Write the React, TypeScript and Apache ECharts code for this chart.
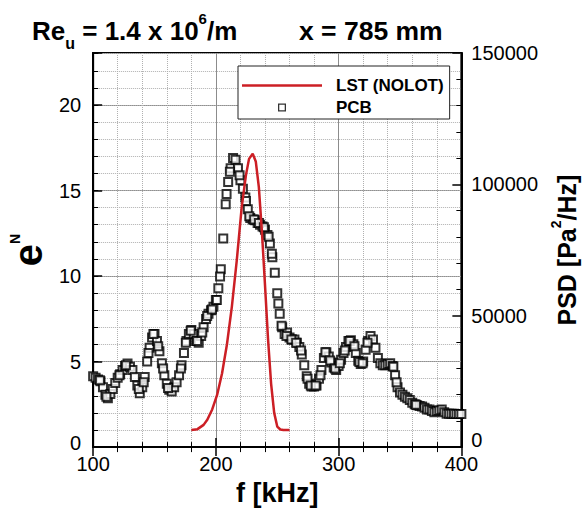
import React, { useEffect, useRef } from "react";
import * as echarts from "echarts";

const FONT = "'Liberation Sans', Arial, Helvetica, sans-serif";

// LST (NOLOT) N-factor curve: [f kHz, e^N]
const lstPoints: number[][] = [
  [180, 1.0], [185, 1.05], [190, 1.3], [193, 1.6], [197, 2.2], [201, 3.05], [205, 4.3],
  [209, 6.0], [213, 8.2], [217, 10.9], [221, 14.0], [224.5, 15.9], [227, 16.85], [230, 17.15],
  [232.5, 16.7], [235, 15.2], [237.5, 12.6], [240, 9.5], [242.5, 6.3], [245, 3.7],
  [247.5, 2.0], [250, 1.2], [252.5, 1.03], [255, 1.0], [260, 1.0],
];

// PCB measured PSD: [f kHz, PSD Pa^2/Hz], read every 2 kHz
const pcbPoints: number[][] = [
  [100, 27000], [102, 26400], [104, 25700], [106, 25100], [108, 22800], [110, 19900], [112, 18600],
  [114, 20200], [116, 22100], [118, 24400], [120, 26400], [122, 27700], [124, 29300], [126, 30900],
  [128, 31800], [130, 30600], [132, 29300], [134, 26700], [136, 23400], [138, 20500], [140, 22800],
  [142, 26700], [144, 32600], [146, 37800], [148, 41700], [150, 43000], [152, 40400], [154, 36500],
  [156, 31900], [158, 27300], [160, 24100], [162, 21800], [164, 21200], [166, 22800], [168, 24700],
  [170, 27300], [172, 31200], [174, 35800], [176, 40400], [178, 43000], [180, 44600], [182, 43000],
  [184, 40400], [186, 39700], [188, 42300], [190, 45600], [192, 48800], [194, 50800], [196, 52100],
  [198, 53400], [200, 56000], [202, 60500], [204, 67700], [206, 79400], [208, 92400], [210, 100900],
  [212, 106100], [214, 110000], [216, 109400], [218, 106100], [220, 101600], [222, 98300], [224, 95000],
  [226, 90500], [228, 87200], [230, 86600], [232, 86300], [234, 85300], [236, 84600], [238, 84000],
  [240, 82700], [242, 80700], [244, 77500], [246, 72300], [248, 66400], [250, 58600], [252, 50800],
  [254, 45600], [256, 43000], [258, 43600], [260, 41700], [262, 41000], [264, 41000], [266, 39700],
  [268, 38100], [270, 35200], [272, 31200], [274, 27000], [276, 24100], [278, 23100], [280, 23100],
  [282, 23400], [284, 26000], [286, 29300], [288, 33900], [290, 36100], [292, 34500], [294, 32200],
  [296, 30300], [298, 29300], [300, 30900], [302, 33200], [304, 35800], [306, 38100], [308, 40400],
  [310, 40700], [312, 39100], [314, 35800], [316, 32900], [318, 31600], [320, 32600], [322, 37100],
  [324, 40400], [326, 42300], [328, 41000], [330, 37800], [332, 33900], [334, 31900], [336, 31200],
  [338, 31200], [340, 31600], [342, 31900], [344, 30900], [346, 27300], [348, 22800], [350, 20800],
  [352, 19900], [354, 19200], [356, 18600], [358, 17900], [360, 16900], [362, 16300], [364, 15900],
  [366, 15600], [368, 15500], [370, 15000], [372, 14300], [374, 14300], [376, 13700], [378, 13300],
  [380, 13700], [382, 14000], [384, 14300], [386, 13300], [388, 12700], [390, 12700], [392, 12700],
  [394, 12700], [396, 12600], [398, 12600], [400, 12600],
];

// PCB additional readings between the 2 kHz grid (from close-up reading)
const pcbPointsExtra: number[][] = [
  [105.5, 25400], [110.8, 19200], [121.4, 27300], [126.7, 31200], [137.2, 22100], [141.2, 24700],
  [145.1, 35800], [149.1, 43000], [153, 38400], [157, 29900], [161, 22500], [171.5, 29900],
  [175.5, 39700], [179.5, 44300], [184.7, 40400], [188.9, 43600], [192.9, 49900], [196.8, 52400],
  [200.8, 56000], [203.4, 64900], [208.7, 96300], [211.4, 104800], [219.3, 103500], [224.5, 93700],
  [227.2, 87900], [231.2, 86600], [235.1, 85300], [239.1, 83700], [243, 80100], [245.6, 73600],
  [250.9, 54700], [253.5, 46200], [257.5, 42300], [261.5, 41000], [265.4, 39700], [269.4, 36800],
  [274.7, 26000], [277.3, 23400], [281.3, 23400], [285.2, 27300], [289.2, 36100], [293.1, 33000],
  [297.1, 29900], [301, 31900], [305, 36800], [309, 40400], [312.9, 38400], [316.9, 32400],
  [319.5, 31900], [323.5, 39700], [344.6, 30600], [347.2, 24700], [363, 16100],
];

const xRange = [100, 400];
const eNRange = [0, 23.04];
const psdRange = [0, 150000];
const seriesNames = ["LST (NOLOT)", "PCB"];

export default function App() {
  const ref = useRef<HTMLDivElement>(null);
  useEffect(() => {
    document.body.style.margin = "0";
    if (!ref.current) return;
    const chart = echarts.init(ref.current, undefined, { renderer: "svg" });
    const tickLine = { color: "#000", width: 1.5 };
    const base = { fontWeight: "bold", color: "#000", fontFamily: FONT };
    const option: any = {
      animation: false,
      backgroundColor: "#fff",
      textStyle: { fontFamily: FONT },
      title: [
        {
          left: 32,
          top: 11,
          padding: 0,
          text: "{b|Re}{sub|u}{b| = 1.4 x 10}{sup|6}{b|/m}",
          textStyle: {
            rich: {
              b: { ...base, fontSize: 26, lineHeight: 40, verticalAlign: "middle" },
              sub: { ...base, fontSize: 16, lineHeight: 16, verticalAlign: "bottom" },
              sup: { ...base, fontSize: 15, lineHeight: 32, verticalAlign: "top" },
            },
          },
        },
        {
          left: 299,
          top: 11,
          padding: 0,
          text: "{b|x = 785 mm}",
          textStyle: {
            rich: {
              b: { ...base, fontSize: 26.5, lineHeight: 40, verticalAlign: "middle" },
            },
          },
        },
      ],
      legend: {
        orient: "vertical",
        left: 238,
        top: 66,
        padding: [11, 6, 3, 4],
        itemGap: 5,
        itemWidth: 80,
        itemHeight: 8,
        backgroundColor: "#fff",
        borderColor: "#222",
        borderWidth: 1,
        textStyle: { fontSize: 17, fontWeight: "bold", color: "#000", fontFamily: FONT, padding: [0, 0, 0, 9], lineHeight: 17 },
        data: [
          { name: seriesNames[0], icon: "path://M0,0H80V2.5H0Z" },
          { name: seriesNames[1], icon: "path://M0,0H10V10H0ZM1.6,1.6V8.4H8.4V1.6Z" },
        ],
      },
      grid: { left: 91, right: 117, top: 53, bottom: 58, show: true, borderColor: "#000", borderWidth: 2, backgroundColor: "transparent" },
      xAxis: [
        {
          type: "value",
          min: xRange[0],
          max: xRange[1],
          interval: 100,
          position: "bottom",
          axisLine: { show: true, lineStyle: { color: "#000", width: 2 } },
          axisTick: { show: true, inside: true, length: 9, lineStyle: tickLine },
          minorTick: { show: true, splitNumber: 5, length: 5, lineStyle: { color: "#000", width: 1 } },
          splitLine: { show: true, lineStyle: { color: "#8c8c8c", width: 1 } },
          minorSplitLine: { show: true, lineStyle: { color: "#b0b0b0", width: 1, type: "dotted" } },
          axisLabel: { fontSize: 20, color: "#000", margin: 7, fontFamily: FONT },
          name: "f [kHz]",
          nameLocation: "middle",
          nameGap: 23,
          nameTextStyle: { fontSize: 27, fontWeight: "bold", color: "#000", fontFamily: FONT },
        },
        {
          type: "value",
          min: xRange[0],
          max: xRange[1],
          interval: 100,
          position: "top",
          axisLine: { show: false },
          axisTick: { show: true, inside: true, length: 9, lineStyle: tickLine },
          minorTick: { show: true, splitNumber: 5, length: 5, lineStyle: { color: "#000", width: 1 } },
          splitLine: { show: false },
          axisLabel: { show: false },
        },
      ],
      yAxis: [
        {
          type: "value",
          min: eNRange[0],
          max: eNRange[1],
          interval: 5,
          position: "left",
          axisLine: { show: true, lineStyle: { color: "#000", width: 2 } },
          axisTick: { show: true, inside: true, length: 9, lineStyle: tickLine },
          splitLine: { show: true, lineStyle: { color: "#8c8c8c", width: 1 } },
          axisLabel: {
            fontSize: 20,
            color: "#000",
            margin: 12,
            fontFamily: FONT,
            formatter: (v: number) => (v === 0 ? "{z|0}" : Math.abs(v % 5) < 1e-9 ? String(v) : ""),
            rich: { z: { fontSize: 20, color: "#000", fontFamily: FONT, padding: [0, 0, 8, 0] } },
          },
          name: "{e|e}{n|N}",
          nameLocation: "middle",
          nameGap: 30,
          nameTextStyle: {
            rich: {
              e: { ...base, fontSize: 40, lineHeight: 40, verticalAlign: "bottom" },
              n: { ...base, fontSize: 14, lineHeight: 14, verticalAlign: "top" },
            },
          },
        },
        {
          type: "value",
          min: eNRange[0],
          max: eNRange[1],
          interval: 1,
          position: "left",
          axisLine: { show: false },
          axisTick: { show: true, inside: true, length: 5, lineStyle: { color: "#000", width: 1 } },
          splitLine: { show: true, lineStyle: { color: "#b0b0b0", width: 1, type: "dotted" } },
          axisLabel: { show: false },
        },
        {
          type: "value",
          min: psdRange[0],
          max: psdRange[1],
          interval: 50000,
          position: "right",
          axisLine: { show: true, lineStyle: { color: "#000", width: 2 } },
          axisTick: { show: true, inside: true, length: 9, lineStyle: tickLine },
          minorTick: { show: true, splitNumber: 5, length: 5, lineStyle: { color: "#000", width: 1 } },
          splitLine: { show: false },
          axisLabel: {
            fontSize: 20,
            color: "#000",
            margin: 10,
            fontFamily: FONT,
            formatter: (v: number) => (v === 0 ? "{z|0}" : String(v)),
            rich: { z: { fontSize: 20, color: "#000", fontFamily: FONT, padding: [0, 0, 14, 0] } },
          },
          name: "{b|PSD [Pa}{s|2}{b|/Hz]}",
          nameLocation: "middle",
          nameGap: 82,
          nameTextStyle: {
            rich: {
              b: { ...base, fontSize: 25, lineHeight: 30, verticalAlign: "bottom" },
              s: { ...base, fontSize: 14, lineHeight: 14, verticalAlign: "top" },
            },
          },
        },
      ],
      series: [
        {
          name: seriesNames[1],
          type: "scatter",
          xAxisIndex: 0,
          yAxisIndex: 2,
          data: pcbPoints.concat(pcbPointsExtra),
          symbol: "emptyRect",
          symbolSize: 8,
          itemStyle: { color: "#000" },
          z: 2,
        },
        {
          name: seriesNames[0],
          type: "line",
          xAxisIndex: 0,
          yAxisIndex: 0,
          data: lstPoints,
          symbol: "none",
          lineStyle: { color: "#cc1f25", width: 2.5 },
          itemStyle: { color: "#cc1f25" },
          z: 3,
        },
      ],
    };
    chart.setOption(option);
    return () => chart.dispose();
  }, []);
  return <div ref={ref} style={{ width: 587, height: 511 }} />;
}
